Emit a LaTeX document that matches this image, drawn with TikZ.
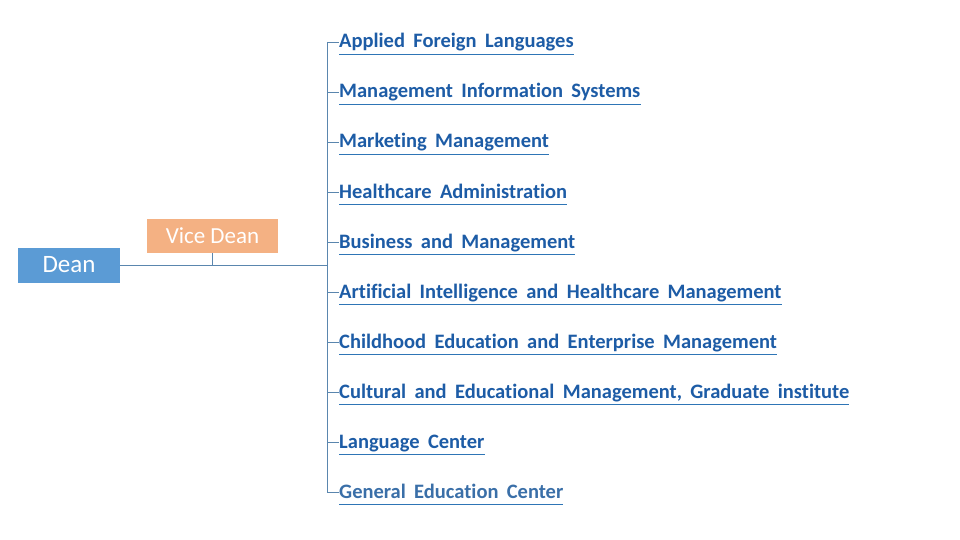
\documentclass[tikz,border=0pt]{standalone}
\usepackage{fontspec}
\setmainfont{Carlito}
\newfontfamily\itemfont[WordSpace=1.8,Ligatures=NoCommon]{Carlito}
\definecolor{deanblue}{HTML}{5B9BD5}
\definecolor{viceorange}{HTML}{F4B183}
\definecolor{linecol}{HTML}{5A86AE}
\definecolor{itemblue}{HTML}{1D5CA6}
\definecolor{itemlight}{HTML}{3A6FA8}
\definecolor{ulblue}{HTML}{2E75B6}
\tikzset{
  conn/.style={draw=linecol, line width=0.9pt},
  ul/.style={draw=ulblue, line width=1pt},
  deanbox/.style={fill=deanblue, text=white, minimum width=102pt, minimum height=35pt, inner sep=0pt, font=\fontsize{25}{25}\selectfont},
  vicebox/.style={fill=viceorange, text=white, minimum width=131pt, minimum height=34pt, inner sep=0pt, font=\fontsize{23}{23}\selectfont},
  itemtext/.style={anchor=base west, inner sep=0pt, text height=15pt, text depth=3pt, font=\itemfont\bfseries\fontsize{20.5}{20.5}\selectfont},
}
\begin{document}
\begin{tikzpicture}[x=1pt, y=-1pt]
\useasboundingbox[fill=white] (0,0) rectangle (960,540);
\node[deanbox] (dean) at (69,265) {Dean};
\node[vicebox] (vice) at (212.5,236) {Vice Dean};
\coordinate (j) at (327,265);
\coordinate (top) at (327,42);
\coordinate (bot) at (327,492);
\draw[conn] (dean.east) -- (j);
\draw[conn] (vice.south) -- (vice.south |- j);
\draw[conn] (top) -- (bot);
\foreach \t/\c [count=\n from 0] in {
  Applied Foreign Languages/itemblue,
  Management Information Systems/itemblue,
  Marketing Management/itemblue,
  Healthcare Administration/itemblue,
  Business and Management/itemblue,
  Artificial Intelligence and Healthcare Management/itemblue,
  Childhood Education and Enterprise Management/itemblue,
  {Cultural and Educational Management, Graduate institute}/itemblue,
  Language Center/itemblue,
  General Education Center/itemlight}
{
  \node[itemtext, text=\c] (i\n) at (339,48+50*\n) {\t};
  \draw[conn] (i\n.west -| top) -- (i\n.west);
  \draw[ul] ([yshift=-3pt]i\n.south west) -- ([yshift=-3pt]i\n.south east);
}
\end{tikzpicture}
\end{document}
